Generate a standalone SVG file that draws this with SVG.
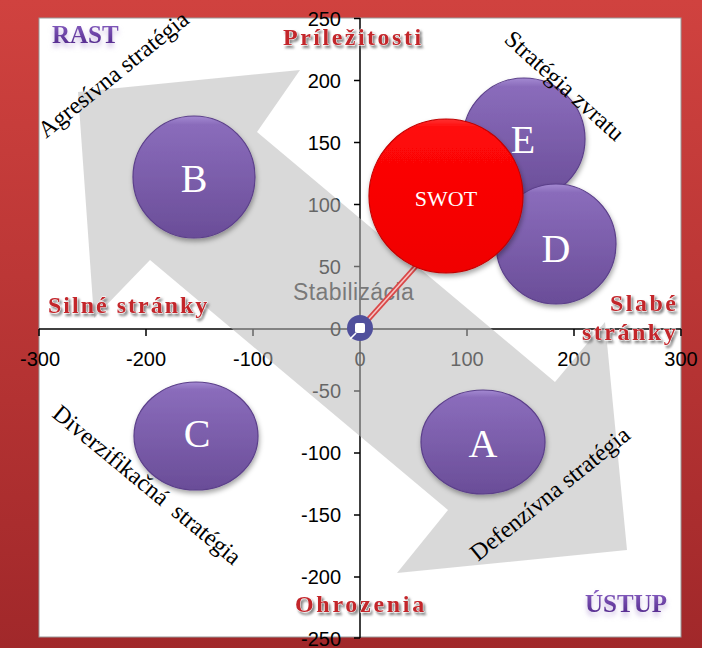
<svg xmlns="http://www.w3.org/2000/svg" width="702" height="648" viewBox="0 0 702 648">
  <defs>
    <linearGradient id="frameGrad" x1="0" y1="0" x2="0" y2="1">
      <stop offset="0" stop-color="#d0423f"/>
      <stop offset="1" stop-color="#a1282a"/>
    </linearGradient>
    <linearGradient id="purpleGrad" x1="0" y1="0" x2="0" y2="1">
      <stop offset="0" stop-color="#a48ad2"/>
      <stop offset="0.07" stop-color="#8a6cbb"/>
      <stop offset="1" stop-color="#6a4d98"/>
    </linearGradient>
    <linearGradient id="redGrad" x1="0" y1="0" x2="0" y2="1">
      <stop offset="0" stop-color="#ff3030"/>
      <stop offset="0.06" stop-color="#ff0808"/>
      <stop offset="1" stop-color="#f00000"/>
    </linearGradient>
    <linearGradient id="titleGrad" x1="0" y1="0" x2="0" y2="1">
      <stop offset="0" stop-color="#8a62c4"/>
      <stop offset="1" stop-color="#4e2387"/>
    </linearGradient>
    <filter id="ballShadow" x="-20%" y="-20%" width="140%" height="150%">
      <feDropShadow dx="1" dy="3" stdDeviation="2.5" flood-color="#000" flood-opacity="0.35"/>
    </filter>
    <filter id="embossShadow" x="-10%" y="-30%" width="120%" height="170%">
      <feDropShadow dx="2" dy="2.5" stdDeviation="1.3" flood-color="#7a7a7a" flood-opacity="0.9"/>
    </filter>
    <filter id="titleShadow" x="-10%" y="-30%" width="120%" height="180%">
      <feDropShadow dx="0" dy="4" stdDeviation="2.5" flood-color="#b9a3d8" flood-opacity="0.7"/>
    </filter>
    <style>
      .tick { font-family: "Liberation Sans", Arial, sans-serif; font-size: 20px; fill: #000; }
      .ty { text-anchor: end; }
      .tx { text-anchor: middle; }
      .axis { stroke: #000; stroke-width: 1.5; fill: none; }
      .ball { fill: url(#purpleGrad); stroke: #5b3f8a; stroke-width: 1.2; filter: url(#ballShadow); }
      .letter { font-family: "Liberation Serif", "Times New Roman", serif; font-size: 40px; fill: #fff; text-anchor: middle; }
      .strat { font-family: "Liberation Serif", "Times New Roman", serif; font-size: 24px; fill: #000; }
      .redTitle { font-family: "Liberation Serif", "Times New Roman", serif; font-weight: bold; font-size: 24px;
                  fill: #c3262c; stroke: #ffffff; stroke-width: 0.8; paint-order: stroke; filter: url(#embossShadow); }
      .purpleTitle { font-family: "Liberation Serif", "Times New Roman", serif; font-weight: bold; font-size: 25px;
                     fill: url(#titleGrad); filter: url(#titleShadow); }
    </style>
  </defs>

  <!-- frame and plot panel -->
  <rect x="0" y="0" width="702" height="648" fill="url(#frameGrad)"/>
  <rect x="39" y="18" width="642" height="619" fill="#ffffff" stroke="#9a9a9a" stroke-width="1"/>

  <!-- axes -->
  <g id="axes">
    <line class="axis" x1="39" y1="329" x2="681" y2="329"/>
    <line class="axis" x1="360" y1="18" x2="360" y2="638"/>
    <path class="axis" d="M39 329v7M146 329v7M253 329v7M467 329v7M574 329v7M681 329v7"/>
    <path class="axis" d="M354 18.5h6M354 80.5h6M354 142.5h6M354 204.5h6M354 266.5h6M354 329h6M354 391h6M354 453h6M354 515h6M354 577h6M354 638h6"/>
    <g class="tick ty">
      <text x="341" y="26">250</text>
      <text x="341" y="88">200</text>
      <text x="341" y="150">150</text>
      <text x="341" y="212">100</text>
      <text x="341" y="274">50</text>
      <text x="341" y="336">0</text>
      <text x="341" y="398">-50</text>
      <text x="341" y="460">-100</text>
      <text x="341" y="522">-150</text>
      <text x="341" y="584">-200</text>
      <text x="341" y="646">-250</text>
    </g>
    <g class="tick tx">
      <text x="40" y="366">-300</text>
      <text x="146" y="366">-200</text>
      <text x="253" y="366">-100</text>
      <text x="360" y="366">0</text>
      <text x="467" y="366">100</text>
      <text x="574" y="366">200</text>
      <text x="681" y="366">300</text>
    </g>
    <text x="293" y="300" font-family="Liberation Sans, Arial, sans-serif" font-size="23" letter-spacing="0.4" fill="#2a2a2a">Stabilizácia</text>
  </g>

  <!-- double-headed strategy arrow -->
  <g id="strategyArrow">
    <polygon points="78,92 300,70 257,132 555,382 605,322 627,550 397,573 448,510 150,260 94,318"
             fill="#bababa" fill-opacity="0.55"/>
  </g>

  <!-- connectors -->
  <g id="connectors">
    <line x1="366" y1="322" x2="418" y2="264" stroke="#d94848" stroke-width="5"/>
    <line x1="366" y1="322" x2="418" y2="264" stroke="#f6c4c4" stroke-width="1.6"/>
  </g>

  <!-- nodes -->
  <g id="nodeB">
    <circle class="ball" cx="194" cy="177" r="61"/>
    <text class="letter" x="194" y="192">B</text>
  </g>
  <g id="nodeC">
    <ellipse class="ball" cx="196" cy="436" rx="62" ry="54"/>
    <text class="letter" x="197" y="447">C</text>
  </g>
  <g id="nodeA">
    <ellipse class="ball" cx="483" cy="442" rx="62" ry="52"/>
    <text class="letter" x="483" y="457">A</text>
  </g>
  <g id="nodeE">
    <circle class="ball" cx="524" cy="139" r="61"/>
    <text class="letter" x="523" y="153">E</text>
  </g>
  <g id="nodeD">
    <circle class="ball" cx="556" cy="244" r="60"/>
    <text class="letter" x="556" y="262">D</text>
  </g>
  <g id="nodeSWOT">
    <circle cx="446" cy="196" r="77" fill="url(#redGrad)" stroke="#c00000" stroke-width="1.2" filter="url(#ballShadow)"/>
    <text x="446" y="206" font-family="Liberation Serif, Times New Roman, serif" font-size="22" fill="#fff" text-anchor="middle">SWOT</text>
  </g>
  <g id="nodeOrigin">
    <circle cx="360" cy="328" r="13" fill="#50509c"/>
    <line x1="356" y1="333" x2="350" y2="339" stroke="#fff" stroke-width="1.6"/>
    <rect x="355" y="323" width="10" height="10" rx="2" fill="#fff"/>
  </g>

  <!-- strategy labels -->
  <g id="strategyLabels">
    <text class="strat" transform="translate(46 139) rotate(-39)">Agresívna stratégia</text>
    <text class="strat" transform="translate(503 41) rotate(42)">Stratégia zvratu</text>
    <text class="strat" transform="translate(51 416) rotate(39.5)" xml:space="preserve">Diverzifikačná  stratégia</text>
    <text class="strat" transform="translate(478 562) rotate(-39)">Defenzívna stratégia</text>
  </g>

  <!-- quadrant titles -->
  <g id="titles">
    <text class="purpleTitle" x="52" y="43">RAST</text>
    <text class="purpleTitle" x="585" y="612">ÚSTUP</text>
    <text class="redTitle" x="283" y="45" letter-spacing="2.5">Príležitosti</text>
    <text class="redTitle" x="48" y="313" letter-spacing="2">Silné stránky</text>
    <text class="redTitle" x="610" y="311" letter-spacing="2.5">Slabé</text>
    <text class="redTitle" x="582" y="340" letter-spacing="2.5">stránky</text>
    <text class="redTitle" x="295" y="612" letter-spacing="2.7">Ohrozenia</text>
  </g>
</svg>
